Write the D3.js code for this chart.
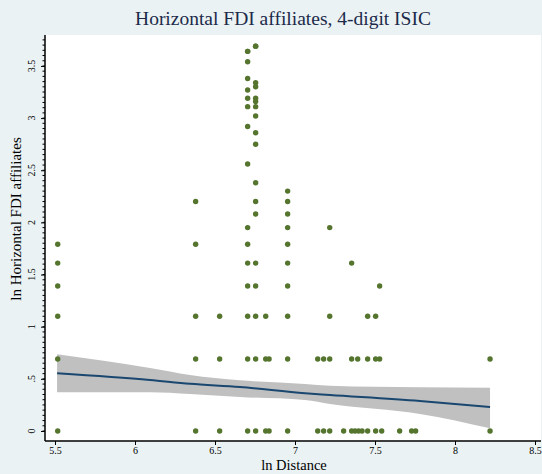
<!DOCTYPE html>
<html><head><meta charset="utf-8">
<script src="https://cdn.jsdelivr.net/npm/d3@7/dist/d3.min.js"></script>
<style>body{margin:0;background:#eaf2f3;} svg{display:block;}</style>
</head><body>
<script>
// ---- data ----
const pointX = [
 // x = 5.52
 5.517,5.517,5.517,5.517,5.517,5.517,
 // x = 6.38
 6.379,6.379,6.379,6.379,6.379,
 // x = 6.53
 6.529,6.529,6.529,
 // column A (6.70)
 6.704,6.704,6.704,6.704,6.704,6.704,6.704,6.704,6.704,6.704,6.704,6.704,6.704,6.704,6.704,6.704,
 // column B (6.75)
 6.754,6.754,6.754,6.754,6.754,6.754,6.754,6.754,6.754,6.754,6.754,6.754,6.754,6.754,6.754,6.754,6.754,6.754,
 // 6.82 / 6.84
 6.817,6.817,6.838,6.817,6.838,
 // column C (6.95)
 6.954,6.954,6.954,6.954,6.954,6.954,6.954,6.954,6.954,6.954,
 // 7.1 - 7.8
 7.142,7.142,7.179,7.179,7.217,7.217,7.217,7.217,
 7.304,
 7.354,7.354,7.354,7.375,7.392,7.397,7.419,
 7.454,7.454,7.454,
 7.504,7.504,7.504,7.529,7.529,7.542,
 7.654,7.729,7.754,
 8.219,8.219
];
const pointY = [
 0,0.69,1.10,1.39,1.61,1.79,
 0,0.69,1.10,1.79,2.20,
 0,0.69,1.10,
 0,0.69,1.10,1.39,1.61,1.79,1.95,2.56,2.92,3.11,3.19,3.27,3.38,3.54,3.64,3.64,
 0,0.69,1.10,1.39,1.61,2.08,2.20,2.38,2.75,2.86,3.02,3.11,3.16,3.19,3.30,3.34,3.69,3.69,
 0,0.69,0,1.10,0.69,
 0,0.69,1.10,1.39,1.61,1.79,1.95,2.08,2.20,2.30,
 0,0.69,0,0.69,0,0.69,1.10,1.95,
 0,
 0,0.69,1.61,0,0.69,0,0,
 0,0.69,1.10,
 0,0.69,1.10,0.69,1.39,0,
 0,0,0,
 0,0.69
];
// fitted line and 95% CI band
const fitX  = [5.513, 6.094, 6.344, 6.656, 7.063, 7.219, 7.781, 8.219];
const fitY  = [0.553, 0.489, 0.453, 0.422, 0.361, 0.345, 0.288, 0.230];
const ciLo  = [0.371, 0.371, 0.355, 0.326, 0.297, 0.259, 0.163, 0.026];
const ciHi  = [0.735, 0.604, 0.537, 0.486, 0.451, 0.434, 0.419, 0.415];

const xTicks = [5.5, 6, 6.5, 7, 7.5, 8, 8.5];
const xTickLabels = ["5.5","6","6.5","7","7.5","8","8.5"];
const yTicks = [0, 0.5, 1, 1.5, 2, 2.5, 3, 3.5];
const yTickLabels = ["0",".5","1","1.5","2","2.5","3","3.5"];

const titleText = "Horizontal FDI affiliates, 4-digit ISIC";
const xTitle = "ln Distance";
const yTitle = "ln Horizontal FDI affiliates";

// ---- drawing ----
const W = 542, H = 474;
const L = 45, R = 541, T = 35, B = 441;
const svg = d3.select("body").append("svg").attr("width", W).attr("height", H);
svg.append("rect").attr("width", W).attr("height", H).attr("fill", "#eaf2f3");
svg.append("rect").attr("x", L).attr("y", T).attr("width", R - L).attr("height", B - T).attr("fill", "#ffffff");

const x = d3.scaleLinear().domain([5.4375, 8.5375]).range([L, R]);
const y = d3.scaleLinear().domain([-0.0959, 3.7968]).range([B, T]);

const serif = "'Liberation Serif','DejaVu Serif',serif";

// CI band
const idx = d3.range(fitX.length);
svg.append("path")
  .attr("d", d3.area().x(i => x(fitX[i])).y0(i => y(ciLo[i])).y1(i => y(ciHi[i])).curve(d3.curveMonotoneX)(idx))
  .attr("fill", "#c0c0c0");
svg.append("path")
  .attr("d", d3.line().x(i => x(fitX[i])).y(i => y(fitY[i])).curve(d3.curveMonotoneX)(idx))
  .attr("fill", "none").attr("stroke", "#1a476f").attr("stroke-width", 2);

// points
svg.append("g").selectAll("circle").data(d3.range(pointX.length)).join("circle")
  .attr("cx", i => x(pointX[i])).attr("cy", i => y(pointY[i])).attr("r", 2.7)
  .attr("fill", "#55752f");

// axes
const xAxis = svg.append("g").attr("transform", `translate(0,${B})`)
  .call(d3.axisBottom(x).tickValues(xTicks).tickFormat((d, i) => xTickLabels[i]).tickSize(4).tickPadding(2));
xAxis.select(".domain").attr("d", `M${L},0H${R}`).attr("stroke", "#000").attr("stroke-width", 1.5);
xAxis.selectAll(".tick text").attr("font-family", serif).attr("font-size", 10).attr("fill", "#000");

// minor y ticks
const minor = d3.range(0, 3.76, 0.05);
svg.append("g").selectAll("line").data(minor).join("line")
  .attr("x1", L - 2.5).attr("x2", L).attr("y1", d => y(d)).attr("y2", d => y(d))
  .attr("stroke", "#000").attr("stroke-width", 1);

const yAxis = svg.append("g").attr("transform", `translate(${L},0)`)
  .call(d3.axisLeft(y).tickValues(yTicks).tickFormat("").tickSize(4));
yAxis.select(".domain").attr("d", `M0,${B}V${T}`).attr("stroke", "#000").attr("stroke-width", 1.5);

svg.append("g").selectAll("text").data(yTicks).join("text")
  .attr("transform", d => `translate(35,${y(d)}) rotate(-90)`)
  .attr("text-anchor", "middle").attr("font-family", serif).attr("font-size", 10).attr("fill", "#000")
  .text((d, i) => yTickLabels[i]);

// titles
svg.append("text").attr("x", 283).attr("y", 25).attr("text-anchor", "middle")
  .attr("font-family", serif).attr("font-size", 19.5).attr("fill", "#1c2a4a").text(titleText);
svg.append("text").attr("x", 294).attr("y", 470).attr("text-anchor", "middle")
  .attr("font-family", serif).attr("font-size", 14.5).attr("fill", "#000").text(xTitle);
svg.append("text").attr("transform", `translate(21,${(T + B) / 2 - 19}) rotate(-90)`).attr("text-anchor", "middle")
  .attr("font-family", serif).attr("font-size", 15).attr("fill", "#000").text(yTitle);
</script>
</body></html>
